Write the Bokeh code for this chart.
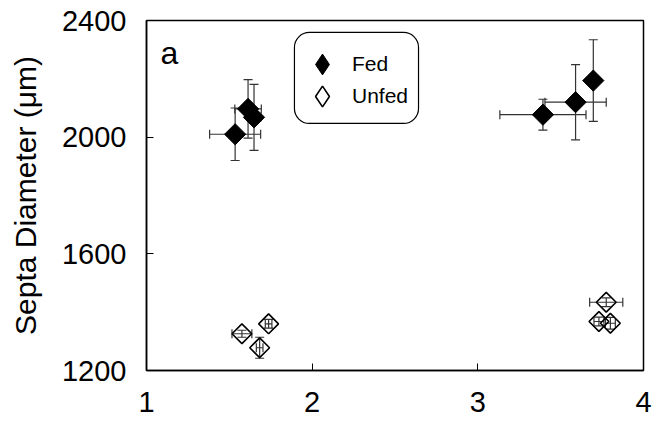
import numpy as np
from bokeh.plotting import figure
from bokeh.models import (ColumnDataSource, Whisker, TeeHead, Legend, LegendItem, Label,
                          FixedTicker, BoxAnnotation)
from bokeh.embed import file_html
from bokeh.resources import INLINE

# ---- data ----
fed_x = [1.535, 1.613, 1.649, 3.393, 3.590, 3.697]
fed_y = [2010, 2097, 2068, 2077, 2120, 2194]
fed_xerr = [0.154, 0.08, 0.04, 0.26, 0.185, 0.0]
fed_yerr = [90, 100, 113, 53, 129, 140]

unfed_x = [1.576, 1.683, 1.737, 3.775, 3.731, 3.800]
unfed_y = [1326, 1278, 1360, 1434, 1368, 1362]
unfed_xerr = [0.06, 0.02, 0.02, 0.10, 0.03, 0.03]
unfed_yerr = [12, 36, 15, 15, 15, 20]

x_ticks = [1, 2, 3, 4]
y_ticks = [1200, 1600, 2000, 2400]
series_names = ["Fed", "Unfed"]
y_label = "Septa Diameter (\u03bcm)"
panel_label = "a"

FONT = "Liberation Sans"

p = figure(width=654, height=425, x_range=(1, 4), y_range=(1200, 2400),
           output_backend="svg", toolbar_location=None,
           min_border_left=146, min_border_right=11, min_border_top=20, min_border_bottom=55)
p.xgrid.visible = False
p.ygrid.visible = False
p.outline_line_color = "black"
p.outline_line_width = 1.5
p.background_fill_color = "white"
p.border_fill_color = "white"

for ax in (p.xaxis[0], p.yaxis[0]):
    ax.axis_line_color = "black"
    ax.axis_line_width = 1.5
    ax.major_tick_in = 7
    ax.major_tick_out = 0
    ax.minor_tick_in = 0
    ax.minor_tick_out = 0
    ax.major_tick_line_color = "black"
    ax.major_tick_line_width = 1
    ax.major_label_text_font = FONT
    ax.major_label_text_font_size = "29px"
    ax.major_label_text_color = "black"

p.xaxis.ticker = FixedTicker(ticks=x_ticks)
p.yaxis.ticker = FixedTicker(ticks=y_ticks)
p.xaxis.major_label_standoff = 21
p.yaxis.major_label_standoff = 20
p.yaxis.axis_label = y_label
p.yaxis.axis_label_text_font = FONT
p.yaxis.axis_label_text_font_size = "30px"
p.yaxis.axis_label_text_font_style = "normal"
p.yaxis.axis_label_text_color = "black"
p.yaxis.axis_label_standoff = 17

def add_errors(xs, ys, xe, ye):
    src = ColumnDataSource(dict(
        x=xs, y=ys,
        xl=[a - b for a, b in zip(xs, xe)], xu=[a + b for a, b in zip(xs, xe)],
        yl=[a - b for a, b in zip(ys, ye)], yu=[a + b for a, b in zip(ys, ye)],
    ))
    for dim, base, lo, up in (("height", "x", "yl", "yu"), ("width", "y", "xl", "xu")):
        w = Whisker(source=src, base=base, lower=lo, upper=up, dimension=dim,
                    line_color="#333333", line_width=1.2, level="underlay",
                    lower_head=TeeHead(size=9, line_color="#333333", line_width=1.2),
                    upper_head=TeeHead(size=9, line_color="#333333", line_width=1.2))
        p.add_layout(w)

add_errors(fed_x, fed_y, fed_xerr, fed_yerr)
add_errors(unfed_x, unfed_y, unfed_xerr, unfed_yerr)

fed_src = ColumnDataSource(dict(x=fed_x, y=fed_y))
unfed_src = ColumnDataSource(dict(x=unfed_x, y=unfed_y))
p.scatter("x", "y", source=fed_src, marker="square", angle=np.pi / 4, size=15,
          fill_color="black", line_color="black", line_width=1)
p.scatter("x", "y", source=unfed_src, marker="square", angle=np.pi / 4, size=14,
          fill_color=None, line_color="black", line_width=1.6)

# legend-only renderers (diamond key glyphs; zero size in the plot area)
lg_fed = p.scatter(x=fed_x[:1], y=fed_y[:1], marker="diamond", size=0,
                   fill_color="black", line_color="black", line_width=1)
lg_unfed = p.scatter(x=unfed_x[:1], y=unfed_y[:1], marker="diamond", size=0,
                     fill_color=None, line_color="black", line_width=1.6)

# rounded legend frame
box = BoxAnnotation(left=1.893, right=2.642, top=2359, bottom=2047,
                    fill_color="white", fill_alpha=1.0,
                    line_color="black", line_alpha=1.0, line_width=1.2, border_radius=15)
p.add_layout(box)

# one borderless legend per entry, stacked inside the frame
for name, rend, loc in ((series_names[0], lg_fed, (150, 280)),
                        (series_names[1], lg_unfed, (150, 248))):
    lg = Legend(items=[LegendItem(label=name, renderers=[rend])],
                location=loc, orientation="vertical",
                padding=0, spacing=0, glyph_width=52, glyph_height=52, label_height=52,
                label_standoff=4, margin=0,
                label_text_font=FONT, label_text_font_size="21px", label_text_color="black",
                border_line_color=None, background_fill_alpha=0.0)
    p.add_layout(lg)

p.add_layout(Label(x=1.084, y=2290, text=panel_label, text_font=FONT, text_font_size="32px",
                   text_color="black", text_baseline="alphabetic", text_align="left"))

open("out.html", "w").write(file_html(p, INLINE))
